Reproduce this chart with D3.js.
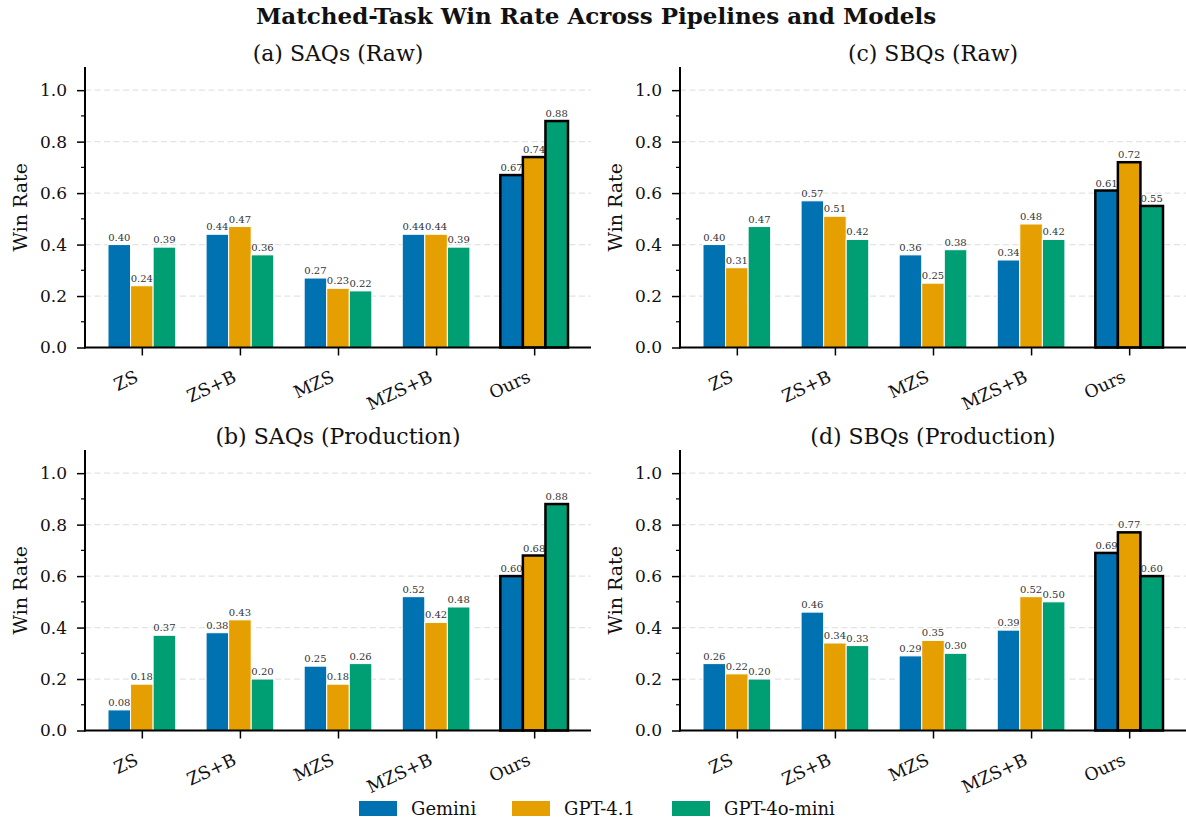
<!DOCTYPE html>
<html>
<head>
<meta charset="utf-8">
<script src="https://cdn.jsdelivr.net/npm/d3@7"></script>
<style>
  html, body { margin: 0; padding: 0; background: #fff; }
  svg { display: block; font-family: "DejaVu Serif", serif; }
</style>
</head>
<body>
<svg id="chart" width="1186" height="821"></svg>
<script>
// Pipelines (x categories) and model series
const pipelines = ["ZS", "ZS+B", "MZS", "MZS+B", "Ours"];
const models = ["Gemini", "GPT-4.1", "GPT-4o-mini"];
const modelColors = ["#0072B2", "#E69F00", "#009E73"];

// Win rates per model, one array per panel (order follows pipelines)
const saqRawGemini = [0.40, 0.44, 0.27, 0.44, 0.67];
const saqRawGpt41 = [0.24, 0.47, 0.23, 0.44, 0.74];
const saqRawMini = [0.39, 0.36, 0.22, 0.39, 0.88];

const saqProdGemini = [0.08, 0.38, 0.25, 0.52, 0.60];
const saqProdGpt41 = [0.18, 0.43, 0.18, 0.42, 0.68];
const saqProdMini = [0.37, 0.20, 0.26, 0.48, 0.88];

const sbqRawGemini = [0.40, 0.57, 0.36, 0.34, 0.61];
const sbqRawGpt41 = [0.31, 0.51, 0.25, 0.48, 0.72];
const sbqRawMini = [0.47, 0.42, 0.38, 0.42, 0.55];

const sbqProdGemini = [0.26, 0.46, 0.29, 0.39, 0.69];
const sbqProdGpt41 = [0.22, 0.34, 0.35, 0.52, 0.77];
const sbqProdMini = [0.20, 0.33, 0.30, 0.50, 0.60];

const yTickValues = [0.0, 0.2, 0.4, 0.6, 0.8, 1.0];
const yMinorValues = [0.1, 0.3, 0.5, 0.7, 0.9];

const panels = [
  { title: "(a) SAQs (Raw)", series: [saqRawGemini, saqRawGpt41, saqRawMini], left: 85, top: 67 },
  { title: "(b) SAQs (Production)", series: [saqProdGemini, saqProdGpt41, saqProdMini], left: 85, top: 450 },
  { title: "(c) SBQs (Raw)", series: [sbqRawGemini, sbqRawGpt41, sbqRawMini], left: 680, top: 67 },
  { title: "(d) SBQs (Production)", series: [sbqProdGemini, sbqProdGpt41, sbqProdMini], left: 680, top: 450 }
];

const svg = d3.select("#chart");
const W = 506, H = 280.5;
const barW = 0.23;
const highlight = "Ours";

svg.append("text")
  .attr("x", 596).attr("y", 24)
  .attr("text-anchor", "middle")
  .attr("font-size", 23).attr("font-weight", "bold")
  .attr("fill", "#111")
  .text("Matched-Task Win Rate Across Pipelines and Models");

panels.forEach(p => {
  const g = svg.append("g").attr("transform", `translate(${p.left},${p.top})`);
  const x = d3.scaleLinear().domain([-0.5795, 4.5795]).range([0, W]);
  const y = d3.scaleLinear().domain([0, 1.09]).range([H, 0]);
  const pxW = x(barW) - x(0);

  // dashed horizontal grid at major ticks
  g.append("g").selectAll("line").data(yTickValues.filter(v => v > 0)).join("line")
    .attr("x1", 0).attr("x2", W)
    .attr("y1", d => y(d)).attr("y2", d => y(d))
    .attr("stroke", "#e3e3e3").attr("stroke-width", 1.2)
    .attr("stroke-dasharray", "6,3.5");

  // bars with value labels
  models.forEach((m, mi) => {
    const vals = p.series[mi];
    const data = pipelines.map((c, ci) => ({ c, ci, v: vals[ci] }));
    const off = (mi - 1) * barW;
    g.append("g").selectAll("rect").data(data).join("rect")
      .attr("x", d => x(d.ci + off - barW / 2))
      .attr("y", d => y(d.v))
      .attr("width", pxW)
      .attr("height", d => y(0) - y(d.v))
      .attr("fill", modelColors[mi])
      .attr("stroke", d => d.c === highlight ? "#000" : "#fff")
      .attr("stroke-width", d => d.c === highlight ? 2.5 : 1);
    g.append("g").selectAll("text").data(data).join("text")
      .attr("x", d => x(d.ci + off))
      .attr("y", d => y(d.v) - 4)
      .attr("text-anchor", "middle")
      .attr("font-size", 10)
      .attr("fill", "#333")
      .text(d => d.v.toFixed(2));
  });

  // y axis
  const yAxis = d3.axisLeft(y).tickValues(yTickValues).tickFormat(d3.format(".1f"))
    .tickSize(8).tickPadding(10);
  const ya = g.append("g").call(yAxis);
  ya.select(".domain").remove();
  ya.selectAll(".tick line").attr("stroke", "#000").attr("stroke-width", 1.5);
  ya.selectAll(".tick text").attr("font-size", 17).attr("font-family", "DejaVu Serif").attr("fill", "#111");
  g.append("g").selectAll("line").data(yMinorValues).join("line")
    .attr("x1", -4).attr("x2", 0)
    .attr("y1", d => y(d)).attr("y2", d => y(d))
    .attr("stroke", "#000").attr("stroke-width", 1.2);
  g.append("line").attr("x1", 0).attr("x2", 0).attr("y1", 0).attr("y2", H + 1)
    .attr("stroke", "#000").attr("stroke-width", 2);

  // x axis with rotated labels
  const xAxis = d3.axisBottom(x).tickValues(d3.range(pipelines.length))
    .tickFormat(i => pipelines[i]).tickSize(8);
  const xa = g.append("g").attr("transform", `translate(0,${H})`).call(xAxis);
  xa.select(".domain").remove();
  xa.selectAll(".tick line").attr("stroke", "#000").attr("stroke-width", 1.5);
  xa.selectAll(".tick text")
    .attr("font-size", 17.5).attr("font-family", "DejaVu Serif").attr("fill", "#111")
    .attr("text-anchor", "end")
    .attr("x", 0).attr("y", 0).attr("dy", 0)
    .attr("transform", "translate(-3,33.5) rotate(-25)");
  g.append("line").attr("x1", -1).attr("x2", W).attr("y1", H).attr("y2", H)
    .attr("stroke", "#000").attr("stroke-width", 2);

  // y label
  g.append("text")
    .attr("transform", `translate(-58,${H / 2}) rotate(-90)`)
    .attr("text-anchor", "middle")
    .attr("font-size", 19).attr("fill", "#111")
    .text("Win Rate");

  // panel title
  g.append("text")
    .attr("x", W / 2).attr("y", -6)
    .attr("text-anchor", "middle")
    .attr("font-size", 22).attr("fill", "#111")
    .text(p.title);
});

// legend
const legendX = [359, 512, 672];
const lg = svg.append("g").attr("transform", "translate(0,801)");
models.forEach((m, i) => {
  lg.append("rect").attr("x", legendX[i]).attr("y", 0).attr("width", 38).attr("height", 15)
    .attr("fill", modelColors[i]);
  lg.append("text").attr("x", legendX[i] + 52).attr("y", 13.5)
    .attr("font-size", 18).attr("fill", "#111").text(m);
});
</script>
</body>
</html>
